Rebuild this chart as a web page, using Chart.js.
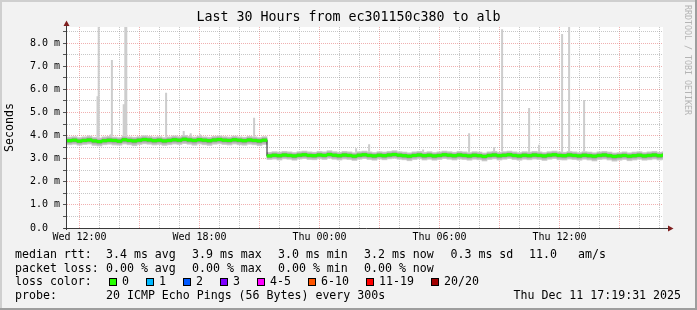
<!DOCTYPE html>
<html>
<head>
<meta charset="utf-8">
<title>Last 30 Hours from ec301150c380 to alb</title>
<script src="https://cdn.jsdelivr.net/npm/chart.js@4.4.1/dist/chart.umd.min.js"></script>
<style>
  html, body { margin: 0; padding: 0; background: #f2f2f2; }
  canvas { display: block; }
</style>
</head>
<body>
<canvas id="smoke" width="697" height="310"></canvas>
<script>
// one sample every 15 minutes, hours counted from Wed 00:00
var startHour = 11.375;
var stepHours = 0.25;
var endHour = 41.175;

// median rtt per sample (ms)
var medianRtt = [
  3.78, 3.80, 3.76, 3.79, 3.81, 3.77, 3.74, 3.78, 3.80, 3.79,
  3.76, 3.82, 3.79, 3.77, 3.80, 3.83, 3.81, 3.78, 3.80, 3.77,
  3.79, 3.82, 3.80, 3.84, 3.81, 3.79, 3.82, 3.80, 3.78, 3.81,
  3.83, 3.80, 3.79, 3.82, 3.80, 3.78, 3.81, 3.79, 3.77, 3.80,
  3.12, 3.15, 3.13, 3.16, 3.14, 3.12, 3.15, 3.17, 3.14, 3.13,
  3.16, 3.14, 3.18, 3.15, 3.13, 3.16, 3.14, 3.11, 3.15, 3.17,
  3.14, 3.12, 3.15, 3.13, 3.16, 3.18, 3.15, 3.13, 3.11, 3.14,
  3.16, 3.13, 3.15, 3.12, 3.14, 3.17, 3.15, 3.13, 3.16, 3.14,
  3.12, 3.15, 3.13, 3.10, 3.14, 3.16, 3.13, 3.15, 3.17, 3.14,
  3.12, 3.15, 3.13, 3.16, 3.14, 3.12, 3.15, 3.17, 3.14, 3.13,
  3.16, 3.14, 3.12, 3.15, 3.13, 3.11, 3.14, 3.16, 3.13, 3.10,
  3.12, 3.14, 3.11, 3.13, 3.15, 3.12, 3.14, 3.16, 3.13, 3.15
];

// fastest and slowest of the 20 pings per sample (ms)
var smokeLo = [
  3.60, 3.62, 3.58, 3.61, 3.63, 3.57, 3.55, 3.60, 3.62, 3.59,
  3.58, 3.63, 3.60, 3.56, 3.61, 3.64, 3.62, 3.59, 3.61, 3.57,
  3.60, 3.63, 3.61, 3.65, 3.62, 3.58, 3.63, 3.60, 3.57, 3.62,
  3.64, 3.61, 3.59, 3.63, 3.60, 3.58, 3.62, 3.60, 3.56, 3.61,
  2.96, 2.98, 2.94, 2.99, 2.97, 2.93, 2.98, 3.00, 2.96, 2.95,
  2.99, 2.96, 3.01, 2.97, 2.94, 2.98, 2.96, 2.92, 2.97, 3.00,
  2.96, 2.93, 2.98, 2.95, 2.99, 3.01, 2.97, 2.95, 2.91, 2.96,
  2.99, 2.94, 2.97, 2.93, 2.96, 3.00, 2.97, 2.94, 2.98, 2.96,
  2.93, 2.97, 2.95, 2.90, 2.96, 2.99, 2.94, 2.97, 3.00, 2.96,
  2.93, 2.97, 2.95, 2.98, 2.96, 2.92, 2.97, 3.00, 2.95, 2.94,
  2.98, 2.96, 2.93, 2.97, 2.94, 2.90, 2.96, 2.98, 2.94, 2.89,
  2.93, 2.96, 2.91, 2.94, 2.97, 2.93, 2.95, 2.98, 2.94, 2.96
];
var smokeHi = [
  3.94, 3.96, 3.92, 3.95, 3.98, 3.93, 3.90, 3.95, 3.97, 3.94,
  3.92, 3.99, 3.95, 3.93, 3.96, 4.00, 3.97, 3.94, 3.96, 3.92,
  3.95, 3.99, 3.96, 4.01, 3.97, 3.94, 3.98, 3.95, 3.93, 3.97,
  3.99, 3.96, 3.94, 3.98, 3.95, 3.93, 3.97, 3.95, 3.92, 3.96,
  3.28, 3.31, 3.29, 3.32, 3.30, 3.27, 3.31, 3.33, 3.30, 3.28,
  3.32, 3.30, 3.35, 3.31, 3.28, 3.32, 3.30, 3.26, 3.31, 3.33,
  3.30, 3.27, 3.31, 3.29, 3.32, 3.35, 3.31, 3.29, 3.26, 3.30,
  3.32, 3.28, 3.31, 3.27, 3.30, 3.33, 3.31, 3.28, 3.32, 3.30,
  3.27, 3.31, 3.29, 3.25, 3.30, 3.32, 3.28, 3.31, 3.33, 3.30,
  3.27, 3.31, 3.29, 3.32, 3.30, 3.27, 3.31, 3.33, 3.30, 3.28,
  3.32, 3.30, 3.27, 3.31, 3.29, 3.26, 3.30, 3.32, 3.29, 3.25,
  3.27, 3.30, 3.26, 3.29, 3.31, 3.27, 3.30, 3.32, 3.28, 3.31
];

// single slow pings: hour and top value (ms)
var spikeHours = [12.46, 12.90, 12.96, 13.56, 13.62, 14.21, 14.29, 14.34, 16.33, 17.21, 17.56, 18.03,
                  20.73, 25.83, 26.48, 29.18, 31.48, 32.73, 33.13, 34.48, 34.98, 36.13, 36.48, 37.23];
var spikeTops  = [4.00, 5.70, 8.70, 4.06, 7.27, 5.36, 8.70, 8.70, 5.85, 4.20, 4.10, 4.06,
                  4.77, 3.45, 3.63, 3.40, 4.10, 3.50, 8.60, 5.19, 3.60, 8.40, 8.70, 5.54];

var xTickHours = [12, 18, 24, 30, 36];
var xTickLabels = ['Wed 12:00', 'Wed 18:00', 'Thu 00:00', 'Thu 06:00', 'Thu 12:00'];
var yTickLabels = ['0.0', '1.0 m', '2.0 m', '3.0 m', '4.0 m', '5.0 m', '6.0 m', '7.0 m', '8.0 m'];

var rttStats = ['3.4', '3.9', '3.0', '3.2', '0.3'];      // avg max min now sd
var rttAmS = '11.0';
var lossStats = ['0.00', '0.00', '0.00', '0.00'];        // avg max min now
var lossBins = ['0', '1', '2', '3', '4-5', '6-10', '11-19', '20/20'];
var lossColors = ['#26ff00', '#00b8ff', '#0059ff', '#7e00ff', '#ff00ff', '#ff5500', '#ff0000', '#a00000'];
var probeText = '20 ICMP Echo Pings (56 Bytes) every 300s';
var stampText = 'Thu Dec 11 17:19:31 2025';

var MONO = '"DejaVu Sans Mono", "Liberation Mono", monospace';
var bandHalf = 0.055;

// build the tables chart.js wants
var smokeBars = [], greenBars = [], medianLine = [], spikeLine = [];
medianRtt.forEach(function (m, i) {
  var t = startHour + i * stepHours;
  smokeBars.push({x: t + stepHours / 2, y: [smokeLo[i], smokeHi[i]]});
  greenBars.push({x: t + stepHours / 2, y: [m - bandHalf, m + bandHalf]});
  medianLine.push({x: t, y: m});
});
medianLine.push({x: startHour + medianRtt.length * stepHours, y: medianRtt[medianRtt.length - 1]});
spikeHours.forEach(function (h, k) {
  var i = Math.min(medianRtt.length - 1, Math.floor((h - startHour) / stepHours));
  spikeLine.push({x: h, y: smokeHi[i]}, {x: h, y: spikeTops[k]}, {x: h, y: null});
});

// smoke gets darker towards the median, like smokeping does
function smokeColor(ctx) {
  if (ctx.type !== 'data') return '#c8c8c8';
  var y = ctx.chart.scales.y;
  var i = ctx.dataIndex;
  var top = y.getPixelForValue(smokeHi[i]);
  var bot = y.getPixelForValue(smokeLo[i]);
  var mid = y.getPixelForValue(medianRtt[i]);
  if (!isFinite(top) || bot - top < 1) return '#c8c8c8';
  var g = ctx.chart.ctx.createLinearGradient(0, top, 0, bot);
  var f = Math.max(0.05, Math.min(0.95, (mid - top) / (bot - top)));
  g.addColorStop(0, '#cfcfcf');
  g.addColorStop(f * 0.5, '#ababab');
  g.addColorStop(f, '#5a5a5a');
  g.addColorStop(f + (1 - f) * 0.5, '#ababab');
  g.addColorStop(1, '#cfcfcf');
  return g;
}

var rrdLook = {
  id: 'rrdLook',
  beforeDraw: function (chart) {
    var ctx = chart.ctx, W = chart.width, H = chart.height, a = chart.chartArea;
    ctx.save();
    ctx.fillStyle = '#f2f2f2';
    ctx.fillRect(0, 0, W, H);
    ctx.fillStyle = '#cfcfcf';
    ctx.fillRect(0, 0, W, 2);
    ctx.fillRect(0, 0, 2, H);
    ctx.fillStyle = '#9e9e9e';
    ctx.fillRect(0, H - 2, W, 2);
    ctx.fillRect(W - 2, 0, 2, H);
    ctx.fillStyle = '#ffffff';
    ctx.fillRect(a.left, a.top, a.right - a.left, a.bottom - a.top);
    ctx.restore();
  },
  afterDraw: function (chart) {
    var ctx = chart.ctx, a = chart.chartArea, W = chart.width;
    ctx.save();
    // axes
    ctx.strokeStyle = '#3a3a3a';
    ctx.lineWidth = 1;
    ctx.beginPath();
    ctx.moveTo(a.left - 0.5, a.bottom + 2);
    ctx.lineTo(a.left - 0.5, a.top - 2);
    ctx.moveTo(a.left - 3, a.bottom + 0.5);
    ctx.lineTo(a.right + 6, a.bottom + 0.5);
    ctx.stroke();
    // arrows
    ctx.fillStyle = '#7f1f1f';
    ctx.beginPath();
    ctx.moveTo(a.left - 0.5, a.top - 6.5);
    ctx.lineTo(a.left - 3.5, a.top - 1);
    ctx.lineTo(a.left + 2.5, a.top - 1);
    ctx.closePath();
    ctx.fill();
    ctx.beginPath();
    ctx.moveTo(a.right + 10.5, a.bottom + 0.5);
    ctx.lineTo(a.right + 5, a.bottom - 2.5);
    ctx.lineTo(a.right + 5, a.bottom + 3.5);
    ctx.closePath();
    ctx.fill();

    // title
    ctx.fillStyle = '#000';
    ctx.textBaseline = 'middle';
    ctx.textAlign = 'center';
    ctx.font = '13.3px ' + MONO;
    ctx.fillText('Last 30 Hours from ec301150c380 to alb', W / 2, 18);

    // legend
    ctx.font = '11.6px ' + MONO;
    ctx.textAlign = 'left';
    var r1 = 255, r2 = 268.5, r3 = 282, r4 = 296;
    ctx.fillText('median rtt:', 15, r1);
    ctx.fillText(rttStats[0] + ' ms avg', 106, r1);
    ctx.fillText(rttStats[1] + ' ms max', 192, r1);
    ctx.fillText(rttStats[2] + ' ms min', 278, r1);
    ctx.fillText(rttStats[3] + ' ms now', 364, r1);
    ctx.fillText(rttStats[4] + ' ms sd', 450.5, r1);
    ctx.fillText(rttAmS, 529, r1);
    ctx.fillText('am/s', 578, r1);

    ctx.fillText('packet loss:', 15, r2);
    ctx.fillText(lossStats[0] + ' % avg', 106, r2);
    ctx.fillText(lossStats[1] + ' % max', 192, r2);
    ctx.fillText(lossStats[2] + ' % min', 278, r2);
    ctx.fillText(lossStats[3] + ' % now', 364, r2);

    ctx.fillText('loss color:', 15, r3);
    var boxX = [109, 146, 182.5, 219.5, 256.5, 307.5, 366, 431];
    lossBins.forEach(function (lbl, k) {
      var bx = Math.round(boxX[k]);
      ctx.fillStyle = lossColors[k];
      ctx.fillRect(bx, 278, 8, 8);
      ctx.strokeStyle = '#000';
      ctx.strokeRect(bx + 0.5, 278.5, 7, 7);
      ctx.fillStyle = '#000';
      ctx.fillText(lbl, bx + 13, r3);
    });

    ctx.fillText('probe:', 15, r4);
    ctx.fillText(probeText, 106, r4);
    ctx.textAlign = 'right';
    ctx.fillText(stampText, 681, r4);

    // watermark
    ctx.translate(687, 60);
    ctx.rotate(Math.PI / 2);
    ctx.textAlign = 'center';
    ctx.font = '8.3px ' + MONO;
    ctx.fillStyle = '#b4b4b4';
    ctx.fillText('RRDTOOL / TOBI OETIKER', 0, 0);
    ctx.restore();
  }
};

var config = {
  type: 'bar',
  data: {
    datasets: [{
      type: 'bar',
      label: 'loss 0',
      data: greenBars,
      backgroundColor: lossColors[0],
      borderWidth: 0,
      grouped: false,
      barPercentage: 1,
      categoryPercentage: 1,
      order: 0
    }, {
      type: 'line',
      label: 'median rtt',
      data: medianLine,
      borderColor: '#202020',
      borderWidth: 1,
      pointRadius: 0,
      stepped: 'before',
      fill: false,
      order: 1
    }, {
      type: 'bar',
      label: 'smoke',
      data: smokeBars,
      backgroundColor: smokeColor,
      borderWidth: 0,
      grouped: false,
      barPercentage: 1,
      categoryPercentage: 1,
      order: 2
    }, {
      type: 'line',
      label: 'spikes',
      data: spikeLine,
      borderColor: '#cdcdcd',
      borderWidth: 2,
      pointRadius: 0,
      spanGaps: false,
      fill: false,
      order: 3
    }]
  },
  options: {
    responsive: false,
    animation: false,
    devicePixelRatio: 1,
    layout: { padding: { top: 27, right: 34, bottom: 0, left: 0 } },
    plugins: {
      legend: { display: false },
      title: { display: false },
      tooltip: { enabled: false }
    },
    scales: {
      x: {
        type: 'linear',
        offset: false,
        min: startHour,
        max: endHour,
        afterBuildTicks: function (scale) {
          var ticks = [];
          for (var h = 12; h <= 41; h++) ticks.push({value: h});
          scale.ticks = ticks;
        },
        afterFit: function (scale) { scale.height = 82; },
        grid: {
          offset: false,
          color: function (ctx) {
            return ctx.tick && ctx.tick.value % 3 === 0 ? 'rgba(222,79,79,0.45)' : 'rgba(143,143,143,0.5)';
          },
          drawTicks: false
        },
        border: { display: false, dash: [1, 1] },
        ticks: {
          autoSkip: false,
          maxRotation: 0,
          padding: 3,
          color: '#000',
          font: { family: MONO, size: 10 },
          callback: function (v) {
            var k = xTickHours.indexOf(v);
            return k < 0 ? '' : xTickLabels[k];
          }
        }
      },
      y: {
        min: 0,
        max: 8.7,
        afterBuildTicks: function (scale) {
          var ticks = [];
          for (var k = 0; k <= 17; k++) ticks.push({value: k / 2});
          scale.ticks = ticks;
        },
        afterFit: function (scale) { scale.width = 67; },
        grid: {
          color: function (ctx) {
            if (!ctx.tick || ctx.tick.value === 0) return 'rgba(0,0,0,0)';
            return ctx.tick.value % 1 === 0 ? 'rgba(222,79,79,0.45)' : 'rgba(143,143,143,0.5)';
          },
          tickColor: '#555',
          tickLength: 4
        },
        border: { display: false, dash: [1, 1] },
        title: {
          display: true,
          text: 'Seconds',
          color: '#000',
          font: { family: MONO, size: 11.6 },
          padding: { top: 3, bottom: 0 }
        },
        ticks: {
          autoSkip: false,
          padding: 3,
          color: '#000',
          font: { family: MONO, size: 10 },
          callback: function (v) {
            return v % 1 === 0 ? (yTickLabels[v] + '    ').slice(0, 5) : '';
          }
        }
      }
    }
  },
  plugins: [rrdLook]
};

window.onload = function () {
  var ctx = document.getElementById('smoke');
  window.smokeChart = new Chart(ctx, config);
};
</script>
</body>
</html>
